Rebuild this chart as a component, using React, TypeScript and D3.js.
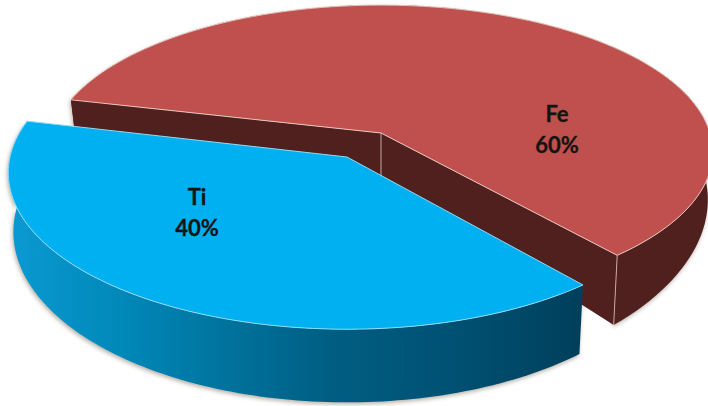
import React from 'react';
import * as d3 from 'd3';

const width = 708;
const height = 406;

const categories = ['Ti', 'Fe'];
const shares = [40, 60];
const topColors = ['#00b0f0', '#c0504d'];
const edgeColors = ['#8fdcf8', '#e6c4be'];
const startAngle = (139.7 * Math.PI) / 180;

// each slice is exploded, so it has its own centre and ellipse
const layouts = [
	{ cx: 347, cy: 157, rx: 337, ry: 155, k: 0.1, depth: 58, power: 2.2, labelX: 197, labelY: 205 },
	{ cx: 381, cy: 133, rx: 329, ry: 144.5, k: 0.13, depth: 44, power: 4.4, labelX: 557, labelY: 122 }
];

type Layout = (typeof layouts)[number];

const pie = d3
	.pie<number>()
	.sort(null)
	.startAngle(startAngle)
	.endAngle(startAngle + 2 * Math.PI);

const project = (l: Layout, angle: number, bottom: boolean): [number, number] => {
	const near = -Math.cos(angle);
	const w = 1 - l.k * near;
	const x = (l.rx * Math.sin(angle)) / w;
	const y = (l.ry * near) / w;
	if (!bottom) return [l.cx + x, l.cy + y];
	return [l.cx + x * 0.985, l.cy + y + l.depth / Math.pow(w, l.power)];
};

const line = d3.line();

const arcPoints = (l: Layout, a0: number, a1: number, bottom: boolean) =>
	d3.range(0, 121).map(i => project(l, a0 + ((a1 - a0) * i) / 120, bottom));

export default function App() {
	const slices = pie(shares);
	const [tiSlice, feSlice] = slices;
	const ti = layouts[0];
	const fe = layouts[1];

	const topPath = (l: Layout, s: d3.PieArcDatum<number>) =>
		line([[l.cx, l.cy], ...arcPoints(l, s.startAngle, s.endAngle, false)]) + 'Z';
	const outerPath = (l: Layout, s: d3.PieArcDatum<number>) =>
		line([
			...arcPoints(l, s.startAngle, s.endAngle, false),
			...arcPoints(l, s.startAngle, s.endAngle, true).reverse()
		]) + 'Z';
	const cutPath = (l: Layout, angle: number) =>
		line([
			[l.cx, l.cy],
			project(l, angle, false),
			project(l, angle, true),
			[l.cx, l.cy + l.depth]
		]) + 'Z';

	const feBack = feSlice.startAngle;
	const feFront = feSlice.endAngle;
	const feTipTop = project(fe, feFront, false);
	const feTipBottom = project(fe, feFront, true);

	return (
		<svg
			width={width}
			height={height}
			style={{ position: 'absolute', left: 0, top: 0, background: '#fff' }}
			fontFamily="Lato, 'Open Sans', sans-serif"
		>
			<defs>
				<linearGradient id="tiSide" x1="0" x2="1" y1="0" y2="0">
					<stop offset="0" stopColor="#0a9ad2" />
					<stop offset="0.2" stopColor="#0088b8" />
					<stop offset="0.55" stopColor="#005f84" />
					<stop offset="0.8" stopColor="#004f70" />
					<stop offset="1" stopColor="#003f5c" />
				</linearGradient>
				<filter id="shadow" x="-5%" y="-5%" width="110%" height="110%">
					<feGaussianBlur stdDeviation="2" />
				</filter>
			</defs>

			{/* soft shadow under both slices */}
			<g fill="#8f8478" opacity={0.65} filter="url(#shadow)" transform="translate(-1,2)">
				<path d={outerPath(fe, feSlice)} />
				<path d={outerPath(ti, tiSlice)} />
			</g>

			<path d={outerPath(fe, feSlice)} fill="#4f201d" />
			<path d={cutPath(fe, feBack)} fill="#4f201d" />
			<path d={cutPath(fe, feFront)} fill="#4f201d" />
			<path d={line([[fe.cx, fe.cy], [fe.cx, fe.cy + fe.depth]])!} stroke="#c9a8a2" strokeWidth={1} />
			<path d={line([feTipTop, feTipBottom])!} stroke="#c9a8a2" strokeWidth={1} />
			<path d={topPath(fe, feSlice)} fill={topColors[1]} stroke={edgeColors[1]} strokeWidth={1} />

			<path d={outerPath(ti, tiSlice)} fill="url(#tiSide)" />
			<path d={topPath(ti, tiSlice)} fill={topColors[0]} stroke={edgeColors[0]} strokeWidth={1} />

			{categories.map((c, i) => (
				<text
					key={c}
					x={layouts[i].labelX}
					y={layouts[i].labelY}
					textAnchor="middle"
					fontSize={22}
					fontWeight={700}
					fill="#141414"
					stroke="#141414"
					strokeWidth={0.3}
				>
					<tspan>{c}</tspan>
					<tspan x={layouts[i].labelX} dy={30.5}>{`${shares[i]}%`}</tspan>
				</text>
			))}
		</svg>
	);
}
